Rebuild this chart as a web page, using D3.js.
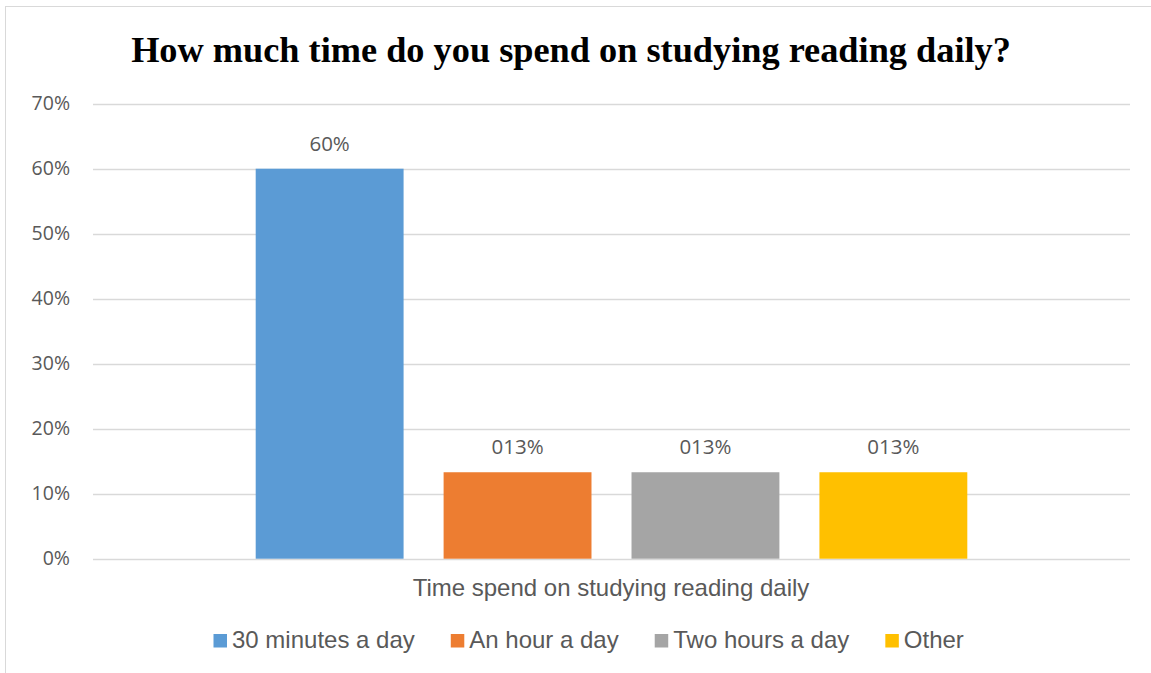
<!DOCTYPE html>
<html>
<head>
<meta charset="utf-8">
<script src="https://cdn.jsdelivr.net/npm/d3@7"></script>
<style>
  html, body { margin: 0; padding: 0; background: #ffffff; }
  svg { display: block; }
</style>
</head>
<body>
<svg id="chart" width="1151" height="673"></svg>
<script>
// Survey results: daily time spent studying reading
const chartTitle = "How much time do you spend on studying reading daily?";
const categories = ["Time spend on studying reading daily"];
const seriesNames = ["30 minutes a day", "An hour a day", "Two hours a day", "Other"];
const seriesValues = [0.60, 0.133, 0.133, 0.133];
const valueLabels = ["60%", "013%", "013%", "013%"];
const seriesColors = ["#5b9bd5", "#ed7d31", "#a5a5a5", "#ffc000"];
const yTicks = [0, 0.1, 0.2, 0.3, 0.4, 0.5, 0.6, 0.7];

const width = 1151, height = 673;
const plot = { left: 93, right: 1130, top: 103.7, bottom: 558.7 };
const textColor = "#595959";
const sansFont = "'Open Sans', 'DejaVu Sans', sans-serif";
const legendFont = "'Liberation Sans', Arial, sans-serif";

const svg = d3.select("#chart");

// chart frame
svg.append("rect")
  .attr("x", 5.5).attr("y", 6.5)
  .attr("width", width).attr("height", height)
  .attr("fill", "#fff")
  .attr("stroke", "#d9d9d9").attr("stroke-width", 1);

// title
svg.append("text")
  .attr("x", 571).attr("y", 62)
  .attr("text-anchor", "middle")
  .attr("font-family", "'Liberation Serif', 'Times New Roman', serif")
  .attr("font-weight", "bold")
  .attr("font-size", 36.3)
  .attr("fill", "#000")
  .text(chartTitle);

// scales
const y = d3.scaleLinear().domain([0, 0.7]).range([plot.bottom, plot.top]);
const x0 = d3.scaleBand().domain(categories)
  .range([plot.left, plot.right]).paddingInner(0).paddingOuter(0.19);
const x1 = d3.scaleBand().domain(seriesNames)
  .range([0, x0.bandwidth()]).paddingInner(0.213).paddingOuter(0.106);

// gridlines
svg.append("g")
  .selectAll("line")
  .data(yTicks)
  .join("line")
  .attr("x1", plot.left).attr("x2", plot.right)
  .attr("y1", d => Math.round(y(d)) + 0.5)
  .attr("y2", d => Math.round(y(d)) + 0.5)
  .attr("stroke", "#d9d9d9").attr("stroke-width", 1.3);

// y axis labels
const yAxis = d3.axisLeft(y).tickValues(yTicks).tickFormat(d3.format(".0%")).tickSize(0).tickPadding(0);
const yAxisG = svg.append("g")
  .attr("transform", `translate(${plot.left - 23},0)`)
  .call(yAxis);
yAxisG.select(".domain").remove();
yAxisG.selectAll("text")
  .attr("font-family", sansFont)
  .attr("font-size", 19.5)
  .attr("fill", textColor);

// bars
const catG = svg.append("g")
  .attr("transform", `translate(${x0(categories[0])},0)`);

catG.selectAll("rect")
  .data(seriesNames)
  .join("rect")
  .attr("x", (d) => x1(d))
  .attr("width", x1.bandwidth())
  .attr("y", (d, i) => y(seriesValues[i]))
  .attr("height", (d, i) => y(0) - y(seriesValues[i]))
  .attr("fill", (d, i) => seriesColors[i]);

// value labels
catG.selectAll("text.value")
  .data(seriesNames)
  .join("text")
  .attr("class", "value")
  .attr("x", d => x1(d) + x1.bandwidth() / 2)
  .attr("y", (d, i) => y(seriesValues[i]) - 18)
  .attr("text-anchor", "middle")
  .attr("font-family", sansFont)
  .attr("font-size", 20.5)
  .attr("fill", textColor)
  .text((d, i) => valueLabels[i]);

// category axis label
svg.append("text")
  .attr("x", 611)
  .attr("y", 596)
  .attr("text-anchor", "middle")
  .attr("font-family", legendFont)
  .attr("font-size", 24)
  .attr("fill", textColor)
  .text(categories[0]);

// legend
const legend = svg.append("g");
const items = legend.selectAll("g")
  .data(seriesNames)
  .join("g");
items.append("rect")
  .attr("width", 13.5).attr("height", 13.5)
  .attr("y", -13.5)
  .attr("fill", (d, i) => seriesColors[i]);
items.append("text")
  .attr("x", 18.5)
  .attr("font-family", legendFont)
  .attr("font-size", 24)
  .attr("fill", textColor)
  .text(d => d);

let cursor = 213.5;
const gap = 36;
items.each(function () {
  const w = 18.5 + this.querySelector("text").getComputedTextLength();
  d3.select(this).attr("transform", `translate(${cursor},647.5)`);
  cursor += w + gap;
});
</script>
</body>
</html>
